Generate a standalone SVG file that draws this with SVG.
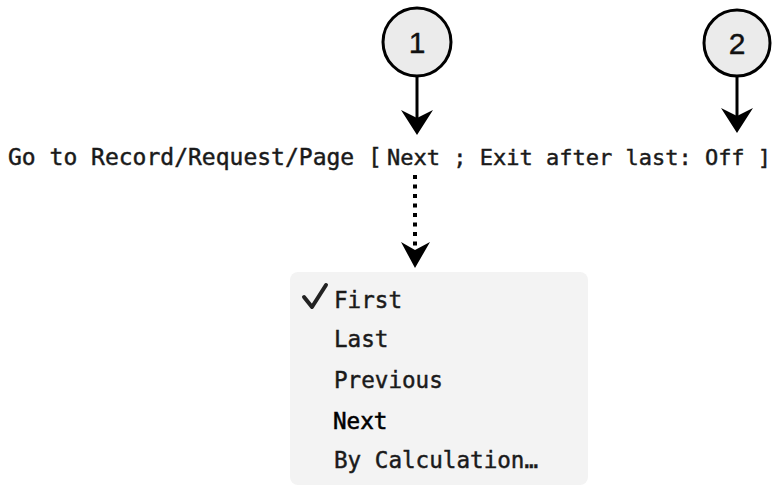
<svg xmlns="http://www.w3.org/2000/svg" width="775" height="486" viewBox="0 0 775 486">
<defs>
<style>
.circ{fill:#ebebeb;stroke:#000;stroke-width:3}
.num{font-family:"Liberation Sans",Arial,sans-serif;font-size:30px;fill:#111;text-anchor:middle;stroke:#111;stroke-width:0.4}
.mono{font-family:"DejaVu Sans Mono","Liberation Mono",monospace;fill:#1a1a1a;stroke:#1a1a1a;stroke-width:0.45}
.line{font-size:23px}
.line2{font-size:22px}
.item{font-size:22.6px}
.conn{stroke:#000;stroke-width:3;fill:none}
.dot{stroke:#000;stroke-width:4;fill:none;stroke-dasharray:4 5.5}
.head{fill:#000}
</style>
</defs>
<rect width="775" height="486" fill="#fff"/>
<g id="callout1">
<circle class="circ" cx="417" cy="42" r="34"/>
<text class="num" x="417" y="53">1</text>
</g>
<g id="callout2">
<circle class="circ" cx="737" cy="43" r="33"/>
<text class="num" x="737" y="54">2</text>
</g>
<g id="script-step">
<text class="mono line" x="8" y="165">Go to Record/Request/Page [</text>
<text class="mono line2" x="387" y="165">Next ; Exit after last: Off ]</text>
</g>
<g id="menu">
<rect x="290" y="272" width="298" height="213" rx="8" fill="#f3f3f3"/>
<path d="M304,297 L312,307 L326,285" fill="none" stroke="#222" stroke-width="4" stroke-linecap="round" stroke-linejoin="round"/>
<text class="mono item" x="334" y="308">First</text>
<text class="mono item" x="334" y="347">Last</text>
<text class="mono item" x="334" y="388">Previous</text>
<text class="mono item" x="333" y="429" style="fill:#000;stroke:#000;stroke-width:0.55">Next</text>
<text class="mono item" x="334" y="468">By Calculation…</text>
</g>
<g id="connectors">
<line class="conn" x1="417" y1="77" x2="417" y2="118"/>
<path class="head" d="M401,110 L417,135 L433,110 L417,118 Z"/>
<line class="conn" x1="737" y1="76" x2="737" y2="116"/>
<path class="head" d="M721,108 L737,133 L753,108 L737,116 Z"/>
<line class="dot" x1="415" y1="175" x2="415" y2="250"/>
<path class="head" d="M401,242 L415,268 L430,242 L415,250 Z"/>
</g>
</svg>
